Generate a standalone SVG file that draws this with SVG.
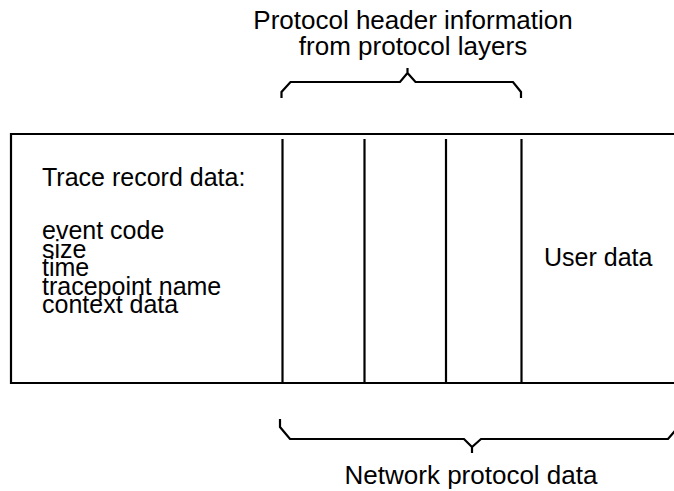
<svg xmlns="http://www.w3.org/2000/svg" width="674" height="491" viewBox="0 0 674 491">
<style>
.ln{fill:none;stroke:#000;stroke-width:2.2;stroke-linejoin:miter;stroke-linecap:butt}
.t{font-family:"Liberation Sans",Arial,sans-serif;font-size:25px;fill:#000}
.lbl{font-family:"Liberation Sans",Arial,sans-serif;font-size:26px;fill:#000;text-anchor:middle}
</style>
<rect width="674" height="491" fill="#fff"/>
<g id="record">
<path class="ln" d="M690,134 H11 V383 H690"/>
</g>
<g id="trace-data">
<text class="t" x="42" y="186">Trace record data:</text>
<text class="t" x="42" y="239">event code</text>
<text class="t" x="42" y="257.5">size</text>
<text class="t" x="42" y="276">time</text>
<text class="t" x="42" y="294.5">tracepoint name</text>
<text class="t" x="42" y="313">context data</text>
</g>
<g id="headers">
<line class="ln" x1="282.5" y1="139" x2="282.5" y2="383"/>
<line class="ln" x1="364.5" y1="139" x2="364.5" y2="383"/>
<line class="ln" x1="446" y1="139" x2="446" y2="383"/>
<line class="ln" x1="521.5" y1="139" x2="521.5" y2="383"/>
</g>
<g id="user-data">
<text class="t" x="544" y="266">User data</text>
</g>
<g id="connectors">
<path class="ln" d="M281.5,98 V92 L290.5,82 H400 L407.5,73 L415.5,82 H513 L521,92 V98 M407.5,73 V68"/>
<path class="ln" d="M280,419 V427 L290,439 H464 L472,447 L481,439 H668 L680,425 M472,447 V453"/>
</g>
<g id="top-label">
<text class="lbl" x="413" y="29">Protocol header information</text>
<text class="lbl" x="413" y="55">from protocol layers</text>
</g>
<g id="bottom-label">
<text class="lbl" x="471" y="484">Network protocol data</text>
</g>
</svg>
